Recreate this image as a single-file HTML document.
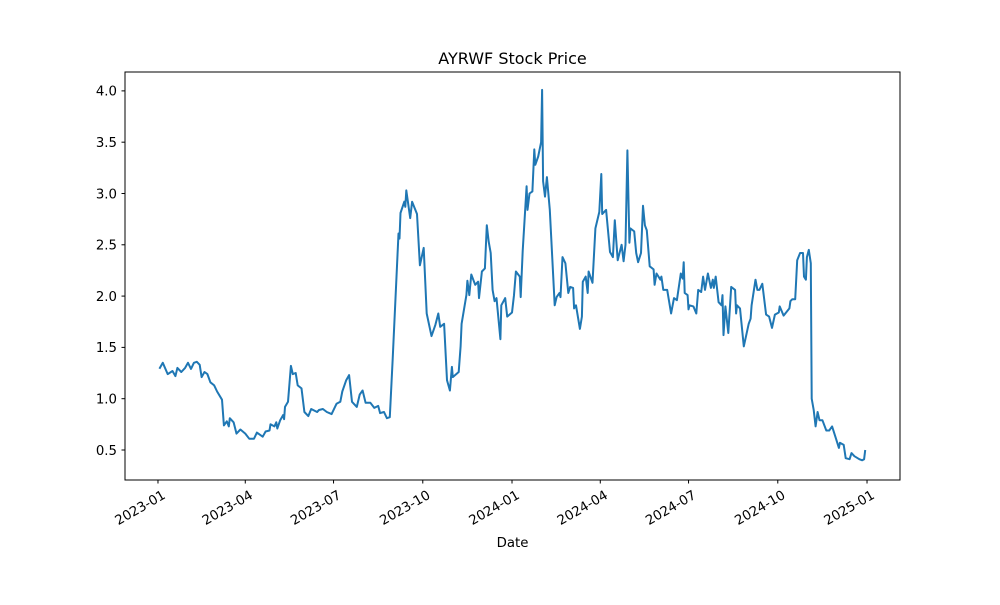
<!DOCTYPE html>
<html><head><meta charset="utf-8"><style>
body{margin:0;background:#fff;}
svg text{font-family:"DejaVu Sans","Liberation Sans",sans-serif;fill:#000;}
</style></head><body>
<svg id="chart" width="1000" height="600" xmlns="http://www.w3.org/2000/svg">
<rect width="1000" height="600" fill="#fff"/>
<text x="512.5" y="64" font-size="16" text-anchor="middle">AYRWF Stock Price</text>
<text x="512.5" y="547" font-size="13.3" text-anchor="middle">Date</text>
<g id="ticks"></g>
<path id="line" fill="none" stroke="#1f77b4" stroke-width="2" stroke-linejoin="round" stroke-linecap="square"/>
<rect x="125" y="72" width="775" height="408" fill="none" stroke="#000" stroke-width="1"/>
</svg>
<script>
const days=[2,5,10,15,18,20,24,28,31,34,37,40,43,45,48,51,54,58,61,66,68,71,73,74,78,81,85,90,94,99,102,108,111,115,116,120,122,123,126,129,130,131,134,137,139,142,144,148,151,155,158,164,166,170,174,179,184,188,190,194,197,200,205,208,211,214,219,223,227,229,233,236,239,242,248,249,250,254,255,256,260,262,267,270,274,277,282,286,289,291,295,298,301,303,304,310,312,313,318,319,321,323,327,330,331,334,337,339,341,343,345,347,349,353,354,358,360,365,367,369,373,374,376,380,381,383,386,388,389,392,395,396,397,399,401,404,409,411,414,415,417,420,423,425,428,429,431,435,437,438,441,443,444,448,451,455,457,458,462,466,469,471,474,478,480,482,484,486,487,491,493,495,498,500,502,504,507,511,512,514,518,519,521,525,529,532,535,539,541,542,543,546,547,548,552,555,557,560,562,564,567,570,572,573,575,578,581,582,583,585,588,591,595,596,597,600,604,609,611,612,616,618,620,623,627,630,633,636,640,641,645,651,652,654,657,659,662,665,666,668,669,671,673,674,676,678,680,682,685,689,692,695,699,702,703,707,709,713,715,718,723,726,728,729];
const prices=[1.30,1.35,1.24,1.27,1.22,1.30,1.26,1.30,1.35,1.29,1.35,1.36,1.33,1.21,1.26,1.24,1.16,1.13,1.07,0.99,0.74,0.78,0.73,0.81,0.77,0.66,0.70,0.66,0.61,0.61,0.67,0.63,0.68,0.69,0.75,0.73,0.77,0.71,0.79,0.84,0.80,0.92,0.97,1.32,1.24,1.25,1.13,1.10,0.87,0.83,0.90,0.87,0.89,0.90,0.87,0.85,0.95,0.97,1.07,1.18,1.23,0.97,0.92,1.04,1.08,0.96,0.96,0.91,0.93,0.86,0.87,0.81,0.82,1.39,2.61,2.56,2.81,2.92,2.87,3.03,2.76,2.92,2.80,2.30,2.47,1.83,1.61,1.72,1.83,1.70,1.73,1.18,1.08,1.31,1.21,1.26,1.51,1.73,2.01,2.15,2.01,2.21,2.11,2.14,1.98,2.24,2.27,2.69,2.53,2.42,2.06,1.95,1.98,1.58,1.91,1.98,1.80,1.84,2.01,2.24,2.19,1.99,2.44,3.07,2.84,3.00,3.02,3.43,3.28,3.36,3.50,4.01,3.12,2.97,3.16,2.84,1.91,1.99,2.03,1.99,2.38,2.32,2.03,2.09,2.08,1.88,1.91,1.68,1.80,2.14,2.19,2.03,2.24,2.13,2.66,2.82,3.19,2.80,2.84,2.43,2.38,2.74,2.35,2.50,2.34,2.50,3.42,2.52,2.66,2.63,2.42,2.33,2.42,2.88,2.69,2.64,2.29,2.26,2.11,2.22,2.16,2.19,2.06,2.06,1.83,1.98,1.96,2.22,2.17,2.33,2.03,2.01,1.87,1.91,1.90,1.83,2.06,2.04,2.19,2.06,2.22,2.08,2.16,2.08,2.19,1.94,1.91,2.01,1.62,1.90,1.64,2.09,2.06,1.83,1.91,1.88,1.51,1.73,1.78,1.91,2.16,2.06,2.06,2.12,1.82,1.80,1.69,1.82,1.84,1.90,1.81,1.88,1.95,1.97,1.97,2.35,2.42,2.42,2.19,2.16,2.38,2.45,2.32,1.00,0.89,0.73,0.87,0.79,0.79,0.69,0.69,0.73,0.61,0.52,0.57,0.55,0.42,0.41,0.47,0.44,0.41,0.40,0.41,0.49];
const xTickDays=[0,90,181,273,365,456,547,639,731];
const xTickLabels=["2023-01","2023-04","2023-07","2023-10","2024-01","2024-04","2024-07","2024-10","2025-01"];
const yTickValues=[0.5,1.0,1.5,2.0,2.5,3.0,3.5,4.0];
const yTickLabels=["0.5","1.0","1.5","2.0","2.5","3.0","3.5","4.0"];

const X0=125,X1=900,Y0=72,Y1=480;
const xMin=-34.0,xMax=765.0,yMin=0.2076,yMax=4.184;
function xs(d){return X0+(d-xMin)/(xMax-xMin)*(X1-X0);}
function ys(v){return Y1-(v-yMin)/(yMax-yMin)*(Y1-Y0);}

const NS="http://www.w3.org/2000/svg";
const line=document.getElementById('line');
line.setAttribute('d',days.map((d,i)=>(i?'L':'M')+xs(d).toFixed(1)+','+ys(prices[i]).toFixed(1)).join(''));
const g=document.getElementById('ticks');
xTickDays.forEach((d,i)=>{
  const x=xs(d);
  const t=document.createElementNS(NS,'line');
  t.setAttribute('x1',x);t.setAttribute('x2',x);t.setAttribute('y1',480);t.setAttribute('y2',483.5);t.setAttribute('stroke','#000');
  
  
  g.appendChild(t);
  const tx=document.createElementNS(NS,'text');
  tx.setAttribute('x',x+4);tx.setAttribute('y',490);tx.setAttribute('font-size','13.3');tx.setAttribute('text-anchor','end');
  tx.setAttribute('dominant-baseline','hanging');
  tx.setAttribute('transform','rotate(-30 '+(x+4)+' 490)');
  tx.textContent=xTickLabels[i];
  
  
  g.appendChild(tx);
});
yTickValues.forEach((v,i)=>{
  const y=ys(v);
  const t=document.createElementNS(NS,'line');
  t.setAttribute('x1',121.5);t.setAttribute('x2',125);t.setAttribute('y1',y);t.setAttribute('y2',y);t.setAttribute('stroke','#000');
  
  
  g.appendChild(t);
  const tx=document.createElementNS(NS,'text');
  tx.setAttribute('x',117);tx.setAttribute('y',y+4.8);tx.setAttribute('font-size','13.3');tx.setAttribute('text-anchor','end');
  tx.textContent=yTickLabels[i];
  
  
  g.appendChild(tx);
});
</script>
</body></html>
